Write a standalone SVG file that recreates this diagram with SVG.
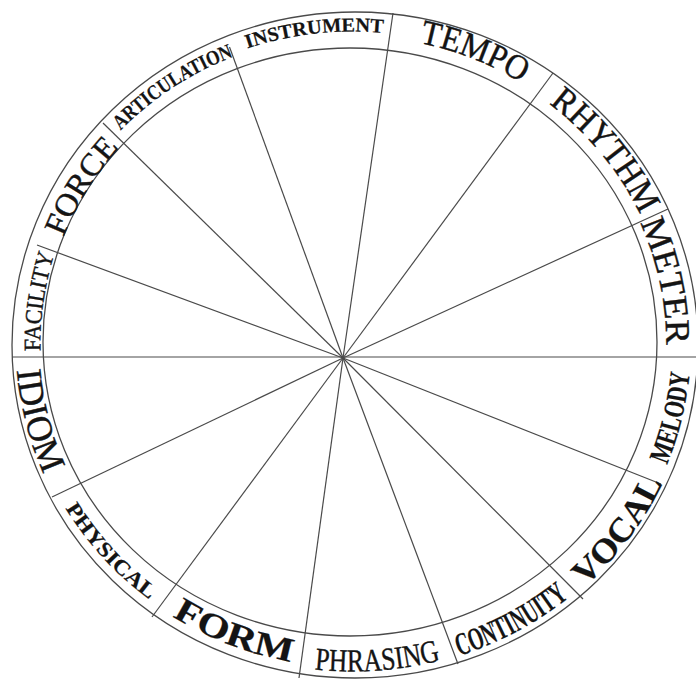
<svg xmlns="http://www.w3.org/2000/svg" width="696" height="681" viewBox="0 0 696 681">
<style>
.ring{fill:none;stroke:#4a4a4a;stroke-width:1.3}
.spoke{stroke:#4a4a4a;stroke-width:1.2;fill:none}
.lbl{font-family:"Liberation Serif","Times New Roman",serif;fill:#141414;stroke:#141414;stroke-width:0.4;text-anchor:middle}
.b{font-weight:bold;stroke-width:0.2}
</style>
<defs>
<path id="p1" d="M67.2,196.6 A323.4,311.9 0 0 1 593.2,135.2"/>
<path id="p2" d="M181.1,84.2 A319,307.5 0 0 1 663.9,277.0"/>
<path id="p3" d="M337.6,38.3 A317,305.5 0 0 1 655.2,434.4"/>
<path id="p4" d="M478.0,66.7 A313.5,302 0 0 1 579.5,551.8"/>
<path id="p5" d="M478.2,647.1 A338.5,327 0 0 0 604.9,125.6"/>
<path id="p6" d="M349.5,674.2 A342.2,330.7 0 0 0 675.1,233.1"/>
<path id="p7" d="M205.4,640.2 A340.5,329 0 0 0 691.4,375.6"/>
<path id="p8" d="M90.2,551.7 A339.5,328 0 0 0 644.7,510.5"/>
<path id="p9" d="M25.9,416.3 A335.2,323.7 0 0 0 535.1,615.0"/>
<path id="p10" d="M28.4,265.5 A334,322.5 0 0 0 387.4,664.2"/>
<path id="p11" d="M98.6,129.6 A336.9,325.4 0 0 0 231.2,647.1"/>
<path id="p12" d="M140.8,564.4 A312.1,300.6 0 0 1 209.4,76.4"/>
<path id="p13" d="M71.1,467.6 A309.5,298 0 0 1 327.7,46.5"/>
<path id="p14" d="M32.1,341.9 A320.4,308.9 0 0 1 463.6,53.8"/>
</defs>
<rect width="696" height="681" fill="#ffffff"/>
<g id="wheel">
<ellipse class="ring" cx="355" cy="345" rx="343" ry="333"/>
<ellipse class="ring" cx="350" cy="342" rx="307" ry="294"/>
</g>
<g id="connectors">
<line class="spoke" x1="343" y1="358" x2="229.5" y2="47"/>
<line class="spoke" x1="343" y1="358" x2="393" y2="13"/>
<line class="spoke" x1="343" y1="358" x2="553" y2="73"/>
<line class="spoke" x1="343" y1="358" x2="668" y2="209"/>
<line class="spoke" x1="12" y1="357" x2="696" y2="357"/>
<line class="spoke" x1="343" y1="358" x2="661" y2="484"/>
<line class="spoke" x1="343" y1="358" x2="583" y2="599"/>
<line class="spoke" x1="343" y1="358" x2="458" y2="664"/>
<line class="spoke" x1="343" y1="358" x2="299" y2="678"/>
<line class="spoke" x1="343" y1="358" x2="152" y2="617"/>
<line class="spoke" x1="343" y1="358" x2="52" y2="497"/>
<line class="spoke" x1="343" y1="358" x2="37" y2="245"/>
<line class="spoke" x1="343" y1="358" x2="103" y2="123"/>
</g>
<g id="instrument"><text class="lbl b" font-size="20"><textPath href="#p1" startOffset="50%" textLength="138" lengthAdjust="spacingAndGlyphs">INSTRUMENT</textPath></text></g>
<g id="tempo"><text class="lbl" font-size="35"><textPath href="#p2" startOffset="50%" textLength="110" lengthAdjust="spacingAndGlyphs">TEMPO</textPath></text></g>
<g id="rhythm"><text class="lbl" font-size="36"><textPath href="#p3" startOffset="50%" textLength="145" lengthAdjust="spacingAndGlyphs">RHYTHM</textPath></text></g>
<g id="meter"><text class="lbl" font-size="35"><textPath href="#p4" startOffset="50%" textLength="126" lengthAdjust="spacingAndGlyphs">METER</textPath></text></g>
<g id="melody"><text class="lbl b" font-size="29"><textPath href="#p5" startOffset="50%" textLength="95" lengthAdjust="spacingAndGlyphs">MELODY</textPath></text></g>
<g id="vocal"><text class="lbl b" font-size="34"><textPath href="#p6" startOffset="50%" textLength="130" lengthAdjust="spacingAndGlyphs">VOCAL</textPath></text></g>
<g id="continuity"><text class="lbl b" font-size="32"><textPath href="#p7" startOffset="50%" textLength="125" lengthAdjust="spacingAndGlyphs">CONTINUITY</textPath></text></g>
<g id="phrasing"><text class="lbl" font-size="32"><textPath href="#p8" startOffset="50%" textLength="127" lengthAdjust="spacingAndGlyphs">PHRASING</textPath></text></g>
<g id="form"><text class="lbl b" font-size="34"><textPath href="#p9" startOffset="50%" textLength="128" lengthAdjust="spacingAndGlyphs">FORM</textPath></text></g>
<g id="physical"><text class="lbl b" font-size="21"><textPath href="#p10" startOffset="50%" textLength="125" lengthAdjust="spacingAndGlyphs">PHYSICAL</textPath></text></g>
<g id="idiom"><text class="lbl" font-size="36"><textPath href="#p11" startOffset="50%" textLength="108" lengthAdjust="spacingAndGlyphs">IDIOM</textPath></text></g>
<g id="facility"><text class="lbl" font-size="24"><textPath href="#p12" startOffset="50%" textLength="98" lengthAdjust="spacingAndGlyphs">FACILITY</textPath></text></g>
<g id="force"><text class="lbl" font-size="32"><textPath href="#p13" startOffset="50%" textLength="106" lengthAdjust="spacingAndGlyphs">FORCE</textPath></text></g>
<g id="articulation"><text class="lbl b" font-size="21"><textPath href="#p14" startOffset="50%" textLength="136" lengthAdjust="spacingAndGlyphs">ARTICULATION</textPath></text></g>
</svg>
